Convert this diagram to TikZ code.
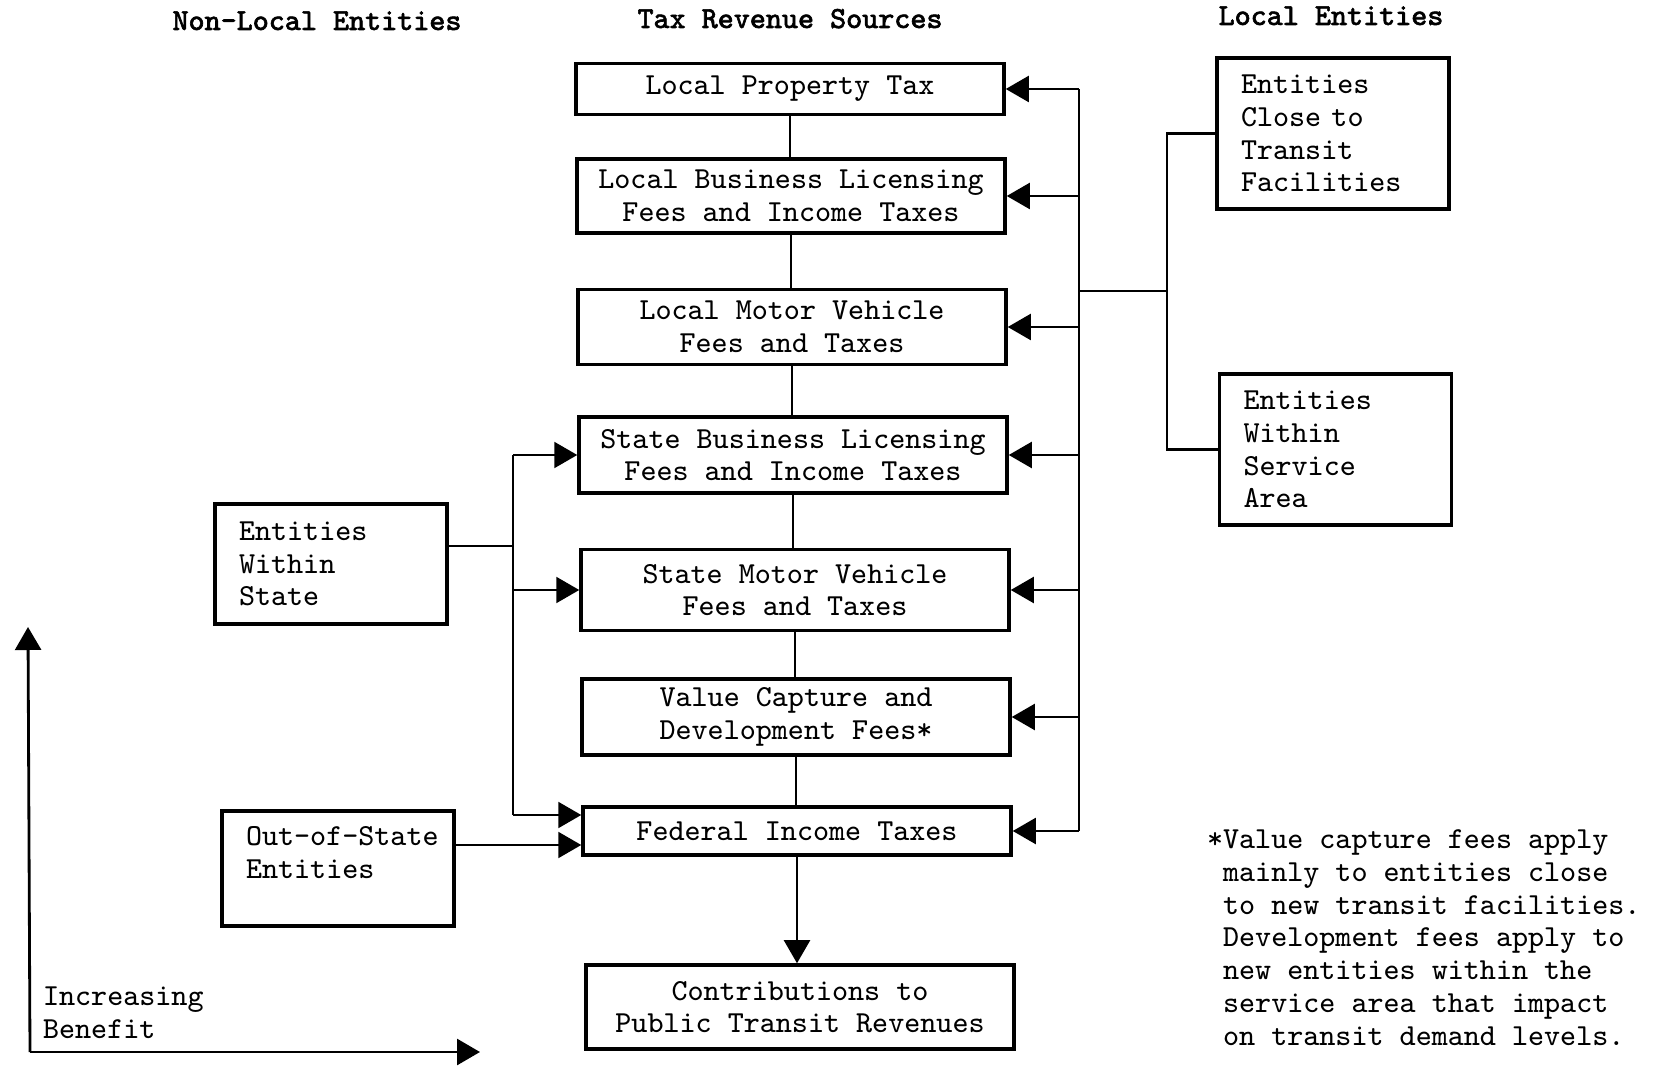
\documentclass[tikz,border=0pt]{standalone}
\usepackage{fontspec}
\usepackage{tikz}
\usetikzlibrary{positioning,calc,arrows.meta}
\newfontfamily\headfont{Latin Modern Mono}[FakeBold=2]
\hfuzz=6mm

\begin{document}
\begin{tikzpicture}[x=0.1mm,y=-0.1mm,line width=0.6pt,
		>={Triangle[length=2.3mm,width=2.6mm]},
		every node/.style={font=\ttfamily\fontsize{8.7}{9.3}\selectfont, inner sep=0pt},
		src/.style={draw, line width=1pt, minimum width=42.8mm, align=center},
		ent/.style={draw, line width=1pt, minimum width=23.2mm, text width=18.4mm, align=left},
		head/.style={anchor=base, font=\headfont\bfseries\fontsize{8.7}{9.3}\selectfont}]
		
		\useasboundingbox (0,0) rectangle (1656,1068);
		
		% column headings
		\node[head] (hnonlocal) at (317,30) {Non-Local Entities};
		\node[head] (hsources) at (790,28) {Tax Revenue Sources};
		\node[head] (hlocal) at (1331,25) {Local Entities};
		
		% tax revenue sources
		\node[src, minimum height=5.1mm] (lpt) at (790,89) {Local Property Tax};
		\node[src, minimum height=7.4mm] (lbl) at (791,196) {Local Business Licensing\\Fees and Income Taxes};
		\node[src, minimum height=7.5mm] (lmv) at (792,327) {Local Motor Vehicle\\Fees and Taxes};
		\node[src, minimum height=7.6mm] (sbl) at (793,455) {State Business Licensing\\Fees and Income Taxes};
		\node[src, minimum height=8.1mm] (smv) at (795,590) {State Motor Vehicle\\Fees and Taxes};
		\node[src, minimum height=7.6mm] (vcd) at (796,717) {Value Capture and\\Development Fees*};
		\node[src, minimum height=4.8mm] (fit) at (797,831) {Federal Income Taxes};
		\node[src, minimum height=8.4mm] (cpt) at (800,1007) {Contributions to\\Public Transit Revenues};
		
		% entities
		\node[ent, minimum height=15.1mm] (ect) at (1333,133.5) {Entities\\Close to\\Transit\\Facilities};
		\node[ent, minimum height=15.1mm] (ewsa) at (1335.5,449.5) {Entities\\Within\\Service\\Area};
		\node[ent, minimum height=12mm] (ews) at (331,564) {Entities\\Within\\State};
		\node[ent, minimum height=11.5mm] (oos) at (338,868.5) {Out-of-State\\Entities\\\mbox{}};
		
		\foreach \a/\b in {lpt/lbl,lbl/lmv,lmv/sbl,sbl/smv,smv/vcd,vcd/fit}
		\draw (\a.south) -- (\a.south |- \b.north);
		\draw[->] (fit.south) -- (fit.south |- cpt.north);
		
		% local side
		\coordinate (rbus) at (1079,0);
		\coordinate (lfork) at (1167,291);
		\draw (rbus |- lpt.east) -- (rbus |- fit.east);
		\foreach \n in {lpt,lbl,lmv,sbl,smv,vcd,fit}
		\draw[->] (rbus |- \n.east) -- (\n.east);
		\draw (rbus |- lfork) -- (lfork);
		\draw (ect.west) -| (lfork) |- (ewsa.west);
		
		% non-local side
		\coordinate (nfork) at (513,546);
		\coordinate (fitin) at ($(fit.west)+(0,-16)$);
		\coordinate (fitout) at ($(fit.west)+(0,14)$);
		\draw (ews.east |- nfork) -- (nfork);
		\draw (nfork |- sbl.west) -- (nfork |- fitin);
		\draw[->] (nfork |- sbl.west) -- (sbl.west);
		\draw[->] (nfork |- smv.west) -- (smv.west);
		\draw[->] (nfork |- fitin) -- (fitin);
		\draw[->] (oos.east |- fitout) -- (fitout);
		
		% benefit axes
		\coordinate (origin) at (30,1052);
		\coordinate (ytip) at (28,627);
		\coordinate (xtip) at (480,1052);
		\draw[->,line width=0.8pt] (origin) -- (ytip);
		\draw[->,line width=0.8pt] (origin) -- (xtip);
		\node[anchor=north west, align=left] (benefit) at (42,986) {Increasing\\Benefit};
		
		\node[anchor=north west, align=left] (note) at (1206,829) {*Value capture fees apply\\
			\phantom{*}mainly to entities close\\
			\phantom{*}to new transit facilities.\\
			\phantom{*}Development fees apply to\\
			\phantom{*}new entities within the\\
			\phantom{*}service area that impact\\
			\phantom{*}on transit demand levels.};
	\end{tikzpicture}
\end{document}
